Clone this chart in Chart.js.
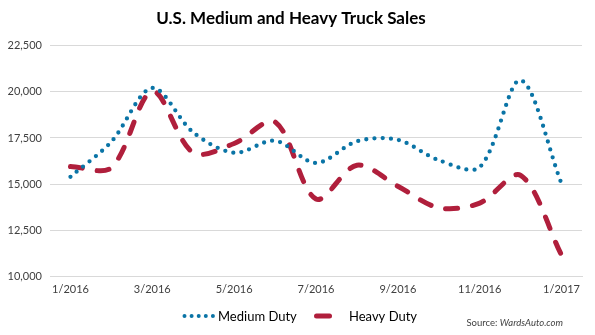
<!DOCTYPE html>
<html><head><meta charset="utf-8">
<script src="https://cdn.jsdelivr.net/npm/chart.js@4/dist/chart.umd.min.js"></script>
<style>html,body{margin:0;padding:0;background:#fff}#wrap{width:595px;height:335px}</style>
</head><body><div id="wrap"><canvas id="c" width="595" height="335"></canvas></div>
<script>
const months = ['1/2016','2/2016','3/2016','4/2016','5/2016','6/2016','7/2016','8/2016','9/2016','10/2016','11/2016','12/2016','1/2017'];
const mediumDuty = [15400, 17300, 20200, 17800, 16700, 17350, 16150, 17320, 17400, 16300, 15920, 20620, 15030];
const heavyDuty  = [15960, 15900, 20020, 16700, 17200, 18370, 14200, 16030, 14890, 13730, 13980, 15480, 11170];
const yTicks = [10000, 12500, 15000, 17500, 20000, 22500];
const FONT = 'Lato, "Open Sans", sans-serif';

const legendSourcePlugin = {
  id: 'legendSource',
  afterDraw(chart) {
    const ctx = chart.ctx;
    const ds = chart.data.datasets;
    ctx.save();
    const ly = 316;
    // Medium Duty sample: dots
    ctx.strokeStyle = ds[0].borderColor;
    ctx.lineWidth = 4; ctx.lineCap = 'round';
    ctx.setLineDash([0, 7.1]);
    ctx.beginPath(); ctx.moveTo(184.5, ly); ctx.lineTo(213, ly); ctx.stroke();
    ctx.setLineDash([]);
    ctx.fillStyle = '#000';
    ctx.textBaseline = 'middle';
    ctx.font = '13px ' + FONT;
    ctx.fillText(ds[0].label, 218, ly + 0.5);
    // Heavy Duty sample: one thick dash
    ctx.strokeStyle = ds[1].borderColor;
    ctx.lineWidth = 5; ctx.lineCap = 'round';
    ctx.beginPath(); ctx.moveTo(316.5, ly); ctx.lineTo(329.5, ly); ctx.stroke();
    ctx.fillText(ds[1].label, 349, ly + 0.5);
    // Source
    ctx.fillStyle = '#404040';
    ctx.font = '9.5px ' + FONT;
    const a = 'Source: ';
    const w = ctx.measureText(a).width;
    ctx.font = 'italic 9.5px ' + FONT;
    const b = 'WardsAuto.com';
    const wb = ctx.measureText(b).width;
    const right = 563;
    ctx.fillText(b, right - wb, 323);
    ctx.font = '9.5px ' + FONT;
    ctx.fillText(a, right - wb - w, 323);
    ctx.restore();
  }
};

new Chart(document.getElementById('c'), {
  type: 'line',
  data: {
    labels: months,
    datasets: [
      { label: 'Medium Duty', data: mediumDuty, borderColor: '#0a74a6', backgroundColor: '#0a74a6',
        borderWidth: 4.3, borderDash: [0, 8.2], borderCapStyle: 'round', tension: 0.32,
        pointRadius: 0, fill: false },
      { label: 'Heavy Duty', data: heavyDuty, borderColor: '#b01f3c', backgroundColor: '#b01f3c',
        borderWidth: 5, borderDash: [12, 15], borderCapStyle: 'round', tension: 0.32,
        pointRadius: 0, fill: false }
    ]
  },
  options: {
    responsive: false,
    animation: false,
    layout: { padding: { left: 0, right: 13, top: 5, bottom: 33 } },
    plugins: {
      title: { display: true, text: 'U.S. Medium and Heavy Truck Sales', color: '#000',
        font: { family: FONT, size: 17, weight: 'bold' }, padding: { top: 3, bottom: 17 } },
      legend: { display: false },
      tooltip: { enabled: false }
    },
    scales: {
      x: {
        offset: true,
        grid: { display: false, drawTicks: false },
        border: { display: true, color: '#d9d9d9', width: 1 },
        ticks: { autoSkip: false, maxRotation: 0, color: '#404040', padding: 6,
          font: { family: FONT, size: 11 },
          callback: function(v, i) { return i % 2 === 0 ? months[i] : ''; } }
      },
      y: {
        min: 10000, max: 22500,
        afterFit(scale) { scale.width = 50; },
        afterBuildTicks(scale) { scale.ticks = yTicks.map(v => ({ value: v })); },
        grid: { color: '#d9d9d9', drawTicks: false },
        border: { display: false },
        ticks: { color: '#404040', padding: 8, font: { family: FONT, size: 11 },
          callback: v => v.toLocaleString('en-US') }
      }
    }
  },
  plugins: [legendSourcePlugin]
});
</script></body></html>
